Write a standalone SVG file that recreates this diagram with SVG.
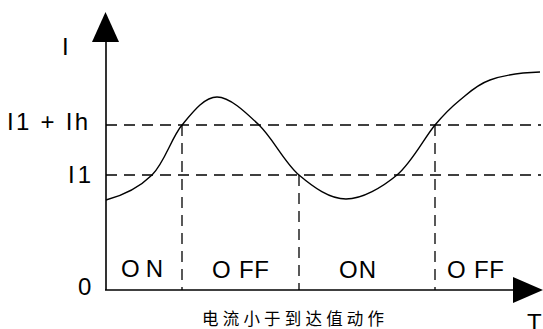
<svg xmlns="http://www.w3.org/2000/svg" width="543" height="329" viewBox="0 0 543 329">
<style>
.lbl{font-family:"Liberation Sans",Arial,sans-serif;font-size:24px;fill:#000}
.cn{font-family:"Liberation Sans","Noto Sans CJK SC",sans-serif;font-size:16.5px;fill:#000}
.dash{stroke:#000;stroke-width:1.3;stroke-dasharray:11 7;fill:none}
.axis{stroke:#000;stroke-width:1.6;fill:none}
.curve{stroke:#000;stroke-width:1.4;fill:none}
</style>
<rect width="543" height="329" fill="#fff"/>
<g id="guides">
<line class="dash" x1="106" y1="125" x2="541" y2="125"/>
<line class="dash" x1="106" y1="175" x2="541" y2="175"/>
<line class="dash" x1="182" y1="125" x2="182" y2="290"/>
<line class="dash" x1="299" y1="175" x2="299" y2="290"/>
<line class="dash" x1="435" y1="125" x2="435" y2="290"/>
</g>
<g id="axes">
<line class="axis" x1="106" y1="40" x2="106" y2="290"/>
<line class="axis" x1="105" y1="290" x2="515" y2="290"/>
<polygon points="105.5,12 92,42 119,42" fill="#000"/>
<polygon points="543,290 513,277 513,303" fill="#000"/>
</g>
<g id="curve">
<path class="curve" d="M106,200 C121,196 139.3,187.5 152,175 C164.7,162.5 171.2,138 182,125 C192.8,112 204.2,97 217,97 C229.8,97 245.3,112 259,125 C272.7,138 284.5,162.7 299,175 C313.5,187.3 329.7,199 346,199 C362.3,199 382.2,187.3 397,175 C411.8,162.7 424.5,137.5 435,125 C445.5,112.5 450.8,107.5 460,100 C469.2,92.5 476.7,84.7 490,80 C503.3,75.3 525,72.5 540,72"/>
</g>
<g id="labels">
<text class="lbl" x="62" y="55">I</text>
<text class="lbl" x="7" y="130" textLength="81" lengthAdjust="spacing">I1 + Ih</text>
<text class="lbl" x="68" y="183" textLength="23" lengthAdjust="spacing">I1</text>
<text class="lbl" x="78" y="295">0</text>
<text class="lbl" x="121" y="277" textLength="42" lengthAdjust="spacing">ON</text>
<text class="lbl" x="212" y="278" textLength="57" lengthAdjust="spacing">O FF</text>
<text class="lbl" x="339" y="278" textLength="37" lengthAdjust="spacing">ON</text>
<text class="lbl" x="447" y="278" textLength="57" lengthAdjust="spacing">O FF</text>
<text class="lbl" x="527" y="331">T</text>
<text class="cn" x="202" y="325" textLength="182" lengthAdjust="spacing">电流小于到达值动作</text>
</g>
</svg>
